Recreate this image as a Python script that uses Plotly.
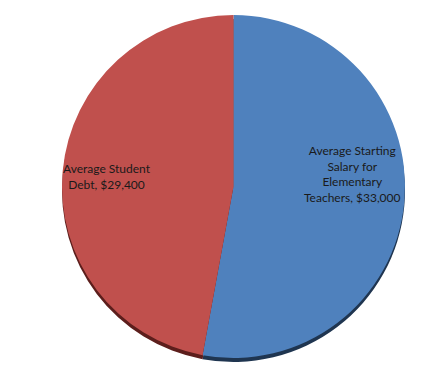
import plotly.graph_objects as go

labels = ["Average Starting Salary for Elementary Teachers", "Average Student Debt"]
values = [33000, 29400]
label_lines = [["Average Starting", "Salary for", "Elementary", "Teachers, $33,000"],
               ["Average Student", "Debt, $29,400"]]
colors = ["#4F81BD", "#C0504D"]
shadow_colors = ["#1F3550", "#5C1E1C"]

W, H = 444, 382
OFF = 8  # default page body margin
def px(x, y):
    return (x - OFF) / W, 1 - (y - OFF) / H

cx, cy, r = 233.5, 186.5, 171.5
x0, y0 = px(cx - r, cy - r)
x1, y1 = px(cx + r, cy + r)
dy = 4 / H

fig = go.Figure()
fig.add_trace(go.Pie(
    labels=labels, values=values, sort=False, direction="clockwise", rotation=0,
    marker=dict(colors=shadow_colors, line=dict(width=0)),
    textinfo="none", hoverinfo="skip", showlegend=False,
    domain=dict(x=[x0, x1], y=[y1 - dy, y0 - dy]),
))
fig.add_trace(go.Pie(
    labels=labels, values=values, sort=False, direction="clockwise", rotation=0,
    marker=dict(colors=colors, line=dict(width=0)),
    textinfo="none", showlegend=False,
    domain=dict(x=[x0, x1], y=[y1, y0]),
))

positions = [(352, 174), (107, 176)]
for lines, (tx, ty) in zip(label_lines, positions):
    ax, ay = px(tx, ty)
    fig.add_annotation(
        x=ax, y=ay, xref="paper", yref="paper", showarrow=False,
        text="<br>".join(lines), align="center",
        font=dict(family="Lato, Liberation Sans, sans-serif", size=12, color="#1a1a1a"),
        xanchor="center", yanchor="middle",
    )

fig.update_layout(
    width=W, height=H, margin=dict(l=0, r=0, t=0, b=0),
    paper_bgcolor="white", plot_bgcolor="white",
)
fig.write_html("out.html")
